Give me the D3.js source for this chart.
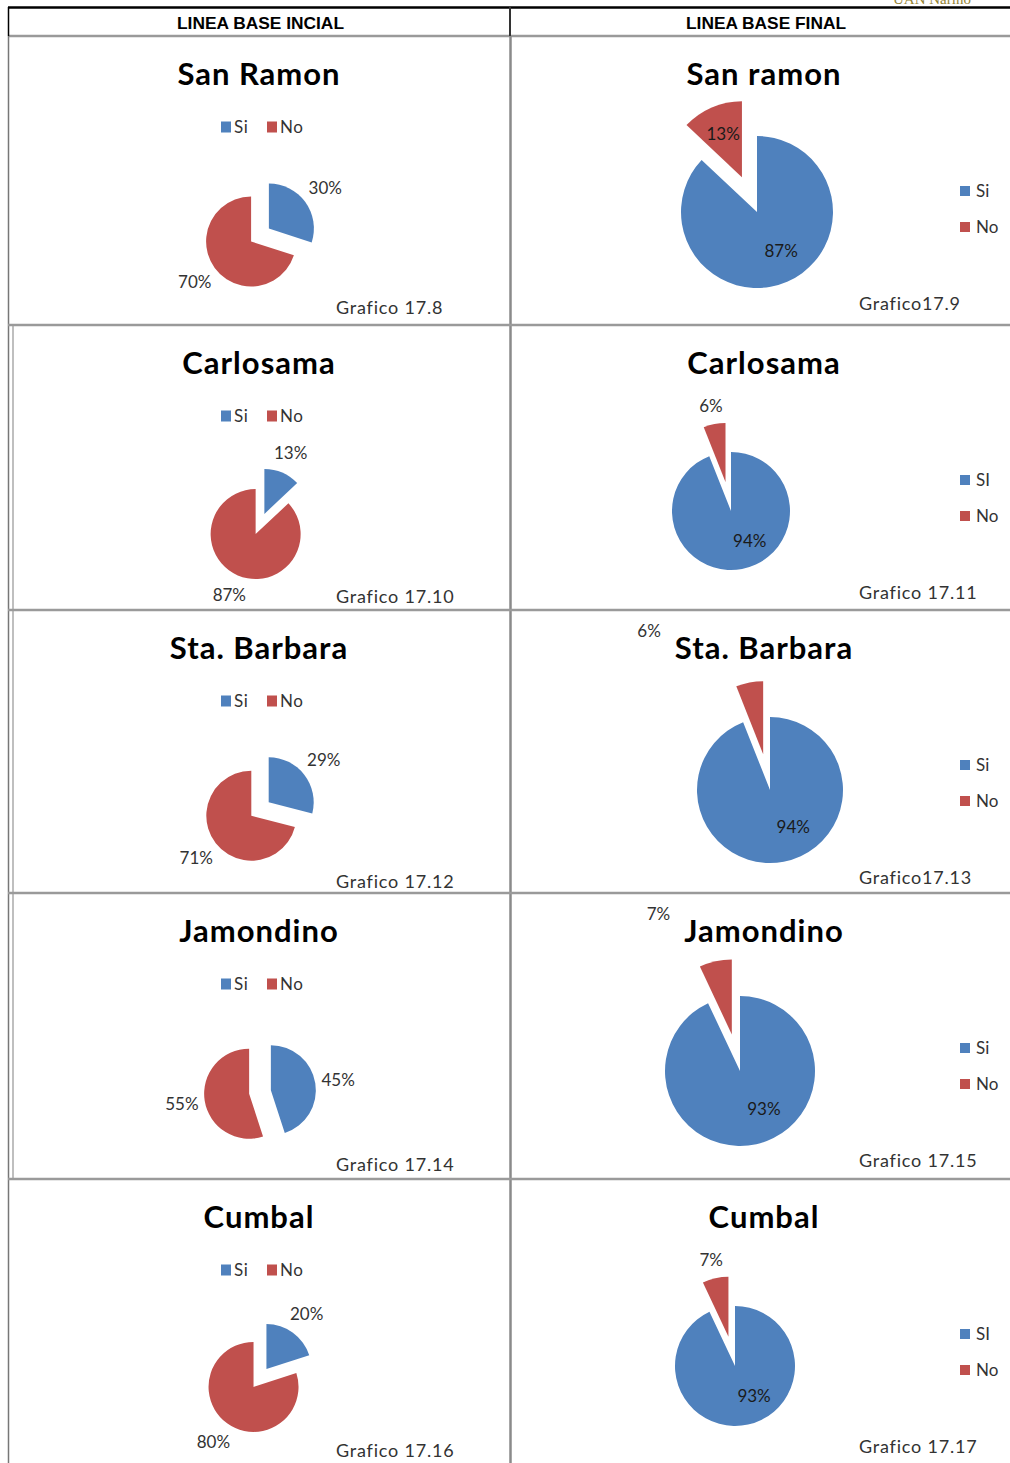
<!DOCTYPE html>
<html><head><meta charset="utf-8">
<script src="https://cdn.jsdelivr.net/npm/d3@7"></script>
<style>body{margin:0;background:#fff}svg{display:block}</style>
</head><body>
<svg id="chart" width="1010" height="1463"></svg>
<script>
// ---------- DATA ----------
const encabezados = ["LINEA BASE INCIAL", "LINEA BASE FINAL"];
const municipiosInicial = ["San Ramon", "Carlosama", "Sta. Barbara", "Jamondino", "Cumbal"];
const municipiosFinal = ["San ramon", "Carlosama", "Sta. Barbara", "Jamondino", "Cumbal"];
const siInicial = [30, 13, 29, 45, 20];
const noInicial = [70, 87, 71, 55, 80];
const siFinal = [87, 94, 94, 93, 93];
const noFinal = [13, 6, 6, 7, 7];
const graficoInicial = ["Grafico 17.8", "Grafico 17.10", "Grafico 17.12", "Grafico 17.14", "Grafico 17.16"];
const graficoFinal = ["Grafico17.9", "Grafico 17.11", "Grafico17.13", "Grafico 17.15", "Grafico 17.17"];
const leyendaInicial = ["Si", "No"];
const leyendaFinal = [["Si", "No"], ["SI", "No"], ["Si", "No"], ["Si", "No"], ["SI", "No"]];

// ---------- LAYOUT / STYLE ----------
const COLORS = ["#4F81BD", "#C0504D"];
const FONT = "Lato, 'Open Sans', 'Noto Sans', sans-serif";
const rowTops = [36, 325, 610, 893, 1179];
const leftPie = { cx: 260, dy: 199, r: 45, explode: 11 };
const rightPies = [
  { cx: 757, dy: 176, r: 76 }, { cx: 731, dy: 186, r: 59 }, { cx: 770, dy: 180, r: 73 },
  { cx: 740, dy: 178, r: 75 }, { cx: 735, dy: 187, r: 60 }
];
const noLabelMode = ["inside", "outside", "title", "title", "outside"];

const svg = d3.select("#chart");

// ---------- TABLE ----------
const grid = svg.append("g");
grid.append("line").attr("x1", 8).attr("x2", 1010).attr("y1", 7.5).attr("y2", 7.5).attr("stroke", "#000").attr("stroke-width", 2.5);
grid.append("line").attr("x1", 8).attr("x2", 1010).attr("y1", 36).attr("y2", 36).attr("stroke", "#9a9a9a").attr("stroke-width", 2.5);
grid.append("line").attr("x1", 8.5).attr("x2", 8.5).attr("y1", 7).attr("y2", 36).attr("stroke", "#000").attr("stroke-width", 1.5);
grid.append("line").attr("x1", 8.5).attr("x2", 8.5).attr("y1", 36).attr("y2", 1463).attr("stroke", "#777").attr("stroke-width", 1.5);
grid.append("line").attr("x1", 13).attr("x2", 13).attr("y1", rowTops[1]).attr("y2", rowTops[4]).attr("stroke", "#aaa").attr("stroke-width", 1.5);
grid.append("line").attr("x1", 510).attr("x2", 510).attr("y1", 7).attr("y2", 36).attr("stroke", "#333").attr("stroke-width", 2);
grid.append("line").attr("x1", 510.5).attr("x2", 510.5).attr("y1", 36).attr("y2", 1463).attr("stroke", "#8a8a8a").attr("stroke-width", 2.5);
rowTops.slice(1).forEach(y => {
  grid.append("line").attr("x1", 8).attr("x2", 1010).attr("y1", y).attr("y2", y).attr("stroke", "#9a9a9a").attr("stroke-width", 2.5);
});

// running header at very top (cut off in the source page)
svg.append("text").attr("x", 893).attr("y", 4).attr("font-family", "'Liberation Serif', serif")
  .attr("font-size", 15).attr("fill", "#948436").text("UAN Nariño");

// column headings
const headX = [260.5, 766], headW = [167, 160];
encabezados.forEach((t, i) => {
  svg.append("text").attr("x", headX[i]).attr("y", 29).attr("text-anchor", "middle")
    .attr("font-family", "'Liberation Sans Narrow', 'Liberation Sans', sans-serif")
    .attr("font-weight", "bold").attr("font-size", 17)
    .attr("textLength", headW[i]).attr("lengthAdjust", "spacingAndGlyphs")
    .attr("fill", "#000").text(t);
});

// ---------- helpers ----------
const pie = d3.pie().sort(null).startAngle(0).endAngle(2 * Math.PI);
function dir(a) { return [Math.sin(a), -Math.cos(a)]; }

function addTitle(g, x, y, t) {
  return g.append("text").attr("x", x).attr("y", y).attr("text-anchor", "middle")
    .attr("font-family", FONT).attr("font-weight", "bold").attr("font-size", 31)
    .attr("letter-spacing", 1).attr("fill", "#000").text(t);
}
function addLabel(g, x, y, t) {
  return g.append("text").attr("x", x).attr("y", y).attr("dy", "0.35em").attr("text-anchor", "middle")
    .attr("font-family", FONT).attr("font-size", 17).attr("fill", "#333").text(t);
}
function placeOutside(lbl, c, a, r, pad) {
  const bb = lbl.node().getBBox();
  const [s, k] = dir(a);
  const d = r + pad + Math.abs(s) * bb.width / 2 + Math.abs(k) * bb.height / 2;
  lbl.attr("x", c[0] + s * d).attr("y", c[1] + k * d);
}
function addFig(g, x, y, t) {
  g.append("text").attr("x", x).attr("y", y).attr("font-family", FONT).attr("font-size", 18)
    .attr("letter-spacing", 0.8).attr("fill", "#333").text(t);
}

// ---------- LEFT COLUMN (linea base inicial) ----------
municipiosInicial.forEach((name, i) => {
  const top = rowTops[i];
  const g = svg.append("g");
  addTitle(g, 259, top + 49, name);
  const lg = g.append("g").attr("transform", `translate(221,${top + 91})`);
  [0, 1].forEach(j => {
    lg.append("rect").attr("x", j * 46).attr("y", -5.5).attr("width", 10).attr("height", 11).attr("fill", COLORS[j]);
    lg.append("text").attr("x", j * 46 + 13).attr("y", 0).attr("dy", "0.36em")
      .attr("font-family", FONT).attr("font-size", 17).attr("letter-spacing", 0.5).attr("fill", "#333").text(leyendaInicial[j]);
  });
  const vals = [siInicial[i], noInicial[i]];
  const arcs = pie(vals);
  const arc = d3.arc().innerRadius(0).outerRadius(leftPie.r);
  const cy = top + leftPie.dy;
  arcs.forEach((d, j) => {
    const m = (d.startAngle + d.endAngle) / 2;
    const [s, k] = dir(m);
    const c = [leftPie.cx + s * leftPie.explode, cy + k * leftPie.explode];
    g.append("path").attr("d", arc(d)).attr("transform", `translate(${c[0]},${c[1]})`).attr("fill", COLORS[j]);
    const lbl = addLabel(g, 0, 0, vals[j] + "%");
    placeOutside(lbl, c, m, leftPie.r, 5);
  });
  addFig(g, 336, top + 278, graficoInicial[i]);
});

// ---------- RIGHT COLUMN (linea base final) ----------
municipiosFinal.forEach((name, i) => {
  const top = rowTops[i];
  const lay = rightPies[i];
  const g = svg.append("g");
  const title = addTitle(g, 764, top + 49, name);
  [0, 1].forEach(j => {
    const y = top + 155 + j * 36;
    g.append("rect").attr("x", 960).attr("y", y - 5).attr("width", 10).attr("height", 10).attr("fill", COLORS[j]);
    g.append("text").attr("x", 976).attr("y", y).attr("dy", "0.36em")
      .attr("font-family", FONT).attr("font-size", 17).attr("fill", "#333").text(leyendaFinal[i][j]);
  });
  const vals = [siFinal[i], noFinal[i]];
  const arcs = pie(vals);
  const arc = d3.arc().innerRadius(0).outerRadius(lay.r);
  const cy = top + lay.dy;
  arcs.forEach((d, j) => {
    const m = (d.startAngle + d.endAngle) / 2;
    const ex = j === 1 ? lay.r * 0.5 : 0;
    const [s, k] = dir(m);
    const c = [lay.cx + s * ex, cy + k * ex];
    g.append("path").attr("d", arc(d)).attr("transform", `translate(${c[0]},${c[1]})`).attr("fill", COLORS[j]);
    const lbl = addLabel(g, 0, 0, vals[j] + "%");
    if (j === 0) {
      const a = Math.min(m, 148 * Math.PI / 180);
      const [s2, k2] = dir(a);
      lbl.attr("x", c[0] + s2 * lay.r * 0.6).attr("y", c[1] + k2 * lay.r * 0.6).attr("fill", "#1a1a1a");
    } else if (noLabelMode[i] === "inside") {
      lbl.attr("x", c[0] + s * lay.r * 0.62).attr("y", c[1] + k * lay.r * 0.62).attr("fill", "#1a1a1a");
    } else if (noLabelMode[i] === "outside") {
      placeOutside(lbl, c, m, lay.r, 6);
    } else {
      const tb = title.node().getBBox();
      lbl.attr("text-anchor", "end").attr("x", tb.x - 14).attr("y", top + 49 - 22).attr("dy", 0);
    }
  });
  addFig(g, 859, top + 274, graficoFinal[i]);
});
</script>
</body></html>
